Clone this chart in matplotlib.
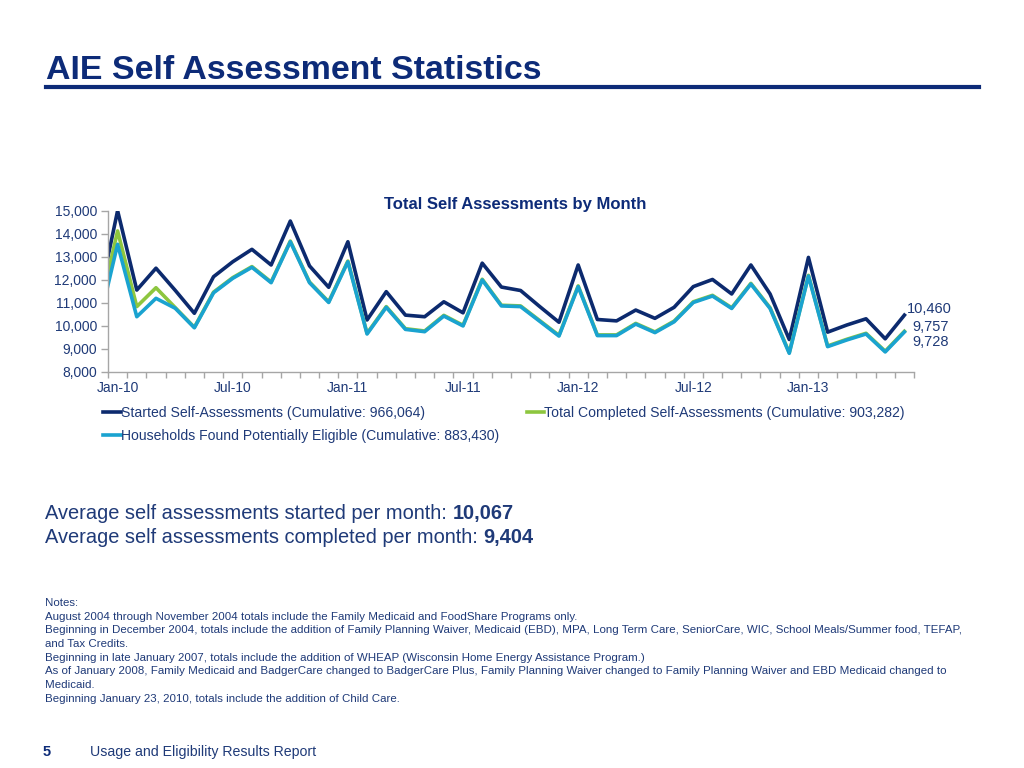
import matplotlib
matplotlib.use('Agg')
import numpy as np
from matplotlib import pyplot as plt
from matplotlib.lines import Line2D
from matplotlib.ticker import FuncFormatter

months = ['Dec-09',
          'Jan-10', 'Feb-10', 'Mar-10', 'Apr-10', 'May-10', 'Jun-10',
          'Jul-10', 'Aug-10', 'Sep-10', 'Oct-10', 'Nov-10', 'Dec-10',
          'Jan-11', 'Feb-11', 'Mar-11', 'Apr-11', 'May-11', 'Jun-11',
          'Jul-11', 'Aug-11', 'Sep-11', 'Oct-11', 'Nov-11', 'Dec-11',
          'Jan-12', 'Feb-12', 'Mar-12', 'Apr-12', 'May-12', 'Jun-12',
          'Jul-12', 'Aug-12', 'Sep-12', 'Oct-12', 'Nov-12', 'Dec-12',
          'Jan-13', 'Feb-13', 'Mar-13', 'Apr-13', 'May-13', 'Jun-13']

started = [11000,
           15000, 11550, 12500, 11540, 10540, 12130, 12780, 13320, 12640, 14550, 12600, 11670,
           13650, 10250, 11480, 10460, 10390, 11040, 10560, 12720, 11680, 11530, 10830, 10150,
           12640, 10270, 10210, 10680, 10320, 10800, 11700, 12010, 11380, 12640, 11380, 9400,
           12970, 9720, 10030, 10300, 9430, 10460]
completed = [10440,
             14120, 10830, 11650, 10790, 9930, 11460, 12090, 12570, 11900, 13680, 11900, 11040,
             12810, 9670, 10830, 9870, 9770, 10450, 10020, 12020, 10890, 10860, 10220, 9580,
             11730, 9600, 9600, 10100, 9730, 10200, 11040, 11320, 10780, 11840, 10780, 8830,
             12190, 9120, 9410, 9670, 8890, 9757]
eligible = [10000,
            13540, 10390, 11190, 10760, 9910, 11430, 12060, 12540, 11870, 13650, 11870, 11010,
            12780, 9640, 10800, 9840, 9740, 10420, 9990, 11990, 10860, 10830, 10190, 9550,
            11700, 9570, 9570, 10070, 9700, 10170, 11010, 11290, 10750, 11810, 10750, 8800,
            12160, 9090, 9380, 9640, 8860, 9728]

series_names = ['Started Self-Assessments (Cumulative: 966,064)',
                'Total Completed Self-Assessments (Cumulative: 903,282)',
                'Households Found Potentially Eligible (Cumulative: 883,430)']
shown_months = ['Jan-10', 'Jul-10', 'Jan-11', 'Jul-11', 'Jan-12', 'Jul-12', 'Jan-13']
y_ticks = [8000, 9000, 10000, 11000, 12000, 13000, 14000, 15000]

avg_started = '10,067'
avg_completed = '9,404'
notes = ['Notes:',
         'August 2004 through November 2004 totals include the Family Medicaid and FoodShare Programs only.',
         'Beginning in December 2004, totals include the addition of Family Planning Waiver, Medicaid (EBD), MPA, Long Term Care, SeniorCare, WIC, School Meals/Summer food, TEFAP,',
         'and Tax Credits.',
         'Beginning in late January 2007, totals include the addition of WHEAP (Wisconsin Home Energy Assistance Program.)',
         'As of January 2008, Family Medicaid and BadgerCare changed to BadgerCare Plus, Family Planning Waiver changed to Family Planning Waiver and EBD Medicaid changed to',
         'Medicaid.',
         'Beginning January 23, 2010, totals include the addition of Child Care.']

NAVY = '#0c2a6e'
GREEN = '#8dc63f'
CYAN = '#1aa3d0'
TEXT = '#1f3a78'
TITLE = '#0d2b78'
GREY = '#a6a6a6'

plt.rcParams['font.family'] = ['Liberation Sans', 'DejaVu Sans']

fig = plt.figure(figsize=(10.24, 7.68), dpi=100)


def px(x, y):
    # pixel position (from top-left) -> figure fraction
    return x / 1024, 1 - y / 768


# header
fig.text(*px(46, 79), 'AIE Self Assessment Statistics', fontsize=24.4,
         fontweight='bold', color=TITLE, va='baseline')
fig.add_artist(Line2D([46 / 1024, 979 / 1024], [1 - 87 / 768] * 2,
                      color=TITLE, lw=3, transform=fig.transFigure))

# chart
ax = fig.add_axes([108 / 1024, 1 - 371.7 / 768, 806 / 1024, 161 / 768])
x = np.arange(len(months))
h1, = ax.plot(x, started, color=NAVY, lw=2.6)
h2, = ax.plot(x, completed, color=GREEN, lw=2.6)
h3, = ax.plot(x, eligible, color=CYAN, lw=2.6)

ax.set_xlim(0.5, len(months) - 0.5)
ax.set_ylim(y_ticks[0], y_ticks[-1])
ax.set_yticks(y_ticks)
ax.yaxis.set_major_formatter(FuncFormatter(lambda v, p: f'{int(v):,}'))

ax.set_xticks([months.index(m) for m in shown_months])
ax.set_xticklabels(shown_months)
ax.set_xticks(np.arange(0.5, len(months), 1.0), minor=True)
ax.tick_params(axis='x', which='major', length=0, pad=7, labelsize=10, labelcolor=TEXT)
ax.tick_params(axis='x', which='minor', length=4, color=GREY, width=1)
ax.tick_params(axis='y', length=5, color=GREY, width=1, labelsize=10, labelcolor=TEXT, pad=3)

for side in ['top', 'right']:
    ax.spines[side].set_visible(False)
for side in ['left', 'bottom']:
    ax.spines[side].set_color(GREY)
    ax.spines[side].set_linewidth(1)

last = len(months) - 1
ax.annotate(f'{started[-1]:,}', xy=(last, started[-1]), xytext=(34, 4.3),
            textcoords='offset points', ha='right', va='center', fontsize=10.5,
            color=TEXT, annotation_clip=False)
ax.annotate(f'{completed[-1]:,}', xy=(last, completed[-1]), xytext=(32, 2.9),
            textcoords='offset points', ha='right', va='center', fontsize=10.5,
            color=TEXT, annotation_clip=False)
ax.annotate(f'{eligible[-1]:,}', xy=(last, eligible[-1]), xytext=(32, -7.3),
            textcoords='offset points', ha='right', va='center', fontsize=10.5,
            color=TEXT, annotation_clip=False)

fig.text(*px(515, 204), 'Total Self Assessments by Month', ha='center', va='center',
         fontsize=12, fontweight='bold', color=TITLE)

fig.legend([h1, h3, h2], [series_names[0], series_names[2], series_names[1]],
           ncol=2, loc='upper left', bbox_to_anchor=px(103, 406), frameon=False,
           handlelength=1.25, handletextpad=0.0, columnspacing=2.0, fontsize=10.1,
           labelcolor=TEXT, borderpad=0, borderaxespad=0, labelspacing=0.62)

# averages
renderer = fig.canvas.get_renderer()
for yy, label, val in [(519, 'Average self assessments started per month: ', avg_started),
                       (543, 'Average self assessments completed per month: ', avg_completed)]:
    t = fig.text(*px(45, yy), label, fontsize=14.4, color=TEXT, va='baseline')
    bb = t.get_window_extent(renderer)
    fig.text(bb.x1 / fig.bbox.width, 1 - yy / 768, val, fontsize=14.4,
             fontweight='bold', color=TEXT, va='baseline')

# notes
for i, line in enumerate(notes):
    fig.text(*px(45, 603 + i * 13.7), line, fontsize=8.25, color=TEXT, va='center')

# footer
fig.text(*px(43, 752), '5', fontsize=10.5, fontweight='bold', color=TITLE, va='center')
fig.text(*px(90, 752), 'Usage and Eligibility Results Report', fontsize=10.2,
         color=TEXT, va='center')

fig.savefig('out.png', dpi=100)
